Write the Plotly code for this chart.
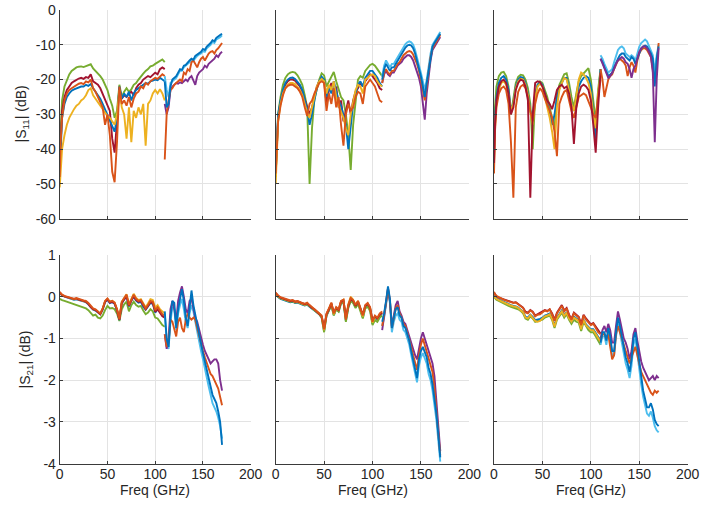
import plotly.graph_objects as go

# ---------------- frequency grids (GHz) ----------------
F_LO = [0, 1, 2.5, 5, 7.5, 10, 12.5, 15, 17.5, 20,
        22.5, 25, 27.5, 30, 32.5, 35, 37.5, 40, 42.5, 45,
        47.5, 50, 52.5, 55, 57.5, 60, 62.5, 65, 67.5, 70,
        72.5, 75, 77.5, 80, 82.5, 85, 87.5, 90, 92.5, 95,
        97.5, 100, 102.5, 105, 107.5, 110]
F_HI = [110, 112, 114, 116, 118, 120, 122, 124, 126, 128,
        130, 132, 134, 136, 138, 140, 142, 144, 146, 148,
        150, 152, 154, 156, 158, 160, 162, 164, 166, 168,
        170]

# ---------------- |S11| column 1 ----------------
A1_GRN = [-40, -32, -26, -22, -20, -18.5, -17.5, -17, -16.5, -16.3,
          -16.2, -16.4, -16.2, -16, -15.6, -16.8, -17.5, -18, -19, -20,
          -21.5, -23, -25.5, -27.5, -31, -29, -21.5, -25, -23.5, -22.5,
          -23.5, -22.8, -21.5, -21, -20, -19, -18.3, -17.5, -17, -16.2,
          -16, -15.5, -15, -14.5, -14.2, -15]
A1_RED = [-45, -36, -29, -25, -23, -22, -21, -20.5, -20, -19.7,
          -19.5, -19.8, -19.3, -19.5, -18.5, -20.5, -21, -21.5, -22.5, -24,
          -26, -27, -29, -37, -41, -32, -22.5, -25.5, -24.5, -25,
          -24, -23.5, -24.5, -22.5, -21.5, -21, -20, -19.5, -19, -19.3,
          -18.5, -18, -18.5, -17, -16.5, -17]
A1_ORG = [-48, -38, -31, -26, -24, -23, -22.5, -22, -21.5, -21.2,
          -21, -21.3, -20.5, -20.8, -20, -22.5, -23.5, -25, -26.5, -28,
          -33, -30, -36, -46.5, -49.5, -38, -22, -27, -26, -27.5,
          -25, -28, -25.5, -24, -23.5, -22, -22.5, -21, -21.5, -20.5,
          -20, -19.5, -19.8, -19, -18.5, -19]
A1_BLU = [-47, -38, -31, -27, -25, -24, -23.2, -22.8, -22.5, -22.2,
          -22, -22, -21.5, -21.8, -21.3, -22.5, -23.5, -24.5, -25.5, -27,
          -28.5, -30, -32, -33.5, -35, -31, -22, -25.5, -24, -25,
          -23.5, -26, -24, -23, -22.5, -22, -21.5, -21, -21.2, -20.5,
          -20.3, -20, -20.2, -19.5, -20, -20.5]
A1_YEL = [-51, -45, -40, -36, -33, -31, -29.5, -28.5, -27.5, -27,
          -26, -25.5, -24.5, -23, -22.5, -24.5, -25.5, -26.5, -27.5, -28.5,
          -29.5, -30.5, -31, -32, -33, -30, -23, -28, -30, -37,
          -28, -38, -29, -31, -28, -30, -27, -39, -27, -26,
          -24, -23, -24, -22.8, -24, -26]
A1_BLU_HI = [-20.5, -28, -27, -22, -20, -19.5, -19, -18, -17, -17.2,
             -16, -15.8, -15, -14.5, -14, -14.3, -13.2, -12.8, -12.3, -12,
             -11.2, -11.5, -10.5, -10, -9.5, -8.7, -9, -8, -7.7, -7.2,
             -6.8]
A1_LBL_HI = [-19, -23, -25, -21, -20.5, -20, -19.5, -18.5, -17.5, -17.5,
             -16.5, -16, -15.5, -15, -14.5, -14.5, -13.8, -13.2, -12.8, -12.5,
             -11.8, -12, -11, -10.5, -10, -9.2, -9.5, -8.5, -8.2, -7.8,
             -7.3]
A1_ORG_HI = [-43, -30, -26, -23, -22.5, -21.5, -21, -20.5, -20, -20.5,
             -18, -18.5, -17, -17.5, -15, -14.5, -15.5, -16.5, -15, -14,
             -13.5, -14.5, -13.5, -12.5, -12, -11.8, -12.5, -11.5, -11, -10.2,
             -9.5]
A1_PUR_HI = [-27, -30, -28, -23, -22, -21.5, -21, -21.2, -20.8, -21,
             -20.5, -20, -20.5, -19.5, -19, -20.5, -21.5, -19, -18, -17.5,
             -17, -16, -16.5, -15.5, -15, -14.5, -14, -13, -13.5, -12.5,
             -12]

# ---------------- |S11| column 2 ----------------
B1_GRN = [-48, -38, -30, -25, -21.5, -19.5, -18.5, -18, -17.8, -18,
          -18.8, -20, -21.5, -24.5, -28, -50, -34, -25.5, -22.5, -20,
          -18.2, -18.8, -22, -20.5, -19.5, -17.8, -20.5, -23, -25, -26,
          -30, -36, -46, -33, -26, -20, -19, -19.5, -17.5, -16.5,
          -15.8, -15.5, -16, -17, -18, -19]
B1_BLU = [-46, -37, -30, -26, -23, -21, -20, -19.5, -19.4, -19.8,
          -20.5, -21.5, -23, -25.5, -28.5, -33, -30, -26, -22.5, -20.5,
          -19.2, -20, -25, -22, -24, -20.5, -23, -26, -27.5, -30,
          -33, -40, -33, -27, -24, -21.5, -20.5, -22, -19.5, -18.5,
          -17.5, -17.5, -18.5, -19.5, -21, -22]
B1_RED = [-47, -38, -31, -26.5, -23.5, -21.5, -20.5, -20, -20, -20.3,
          -21, -22, -23.5, -25.5, -28, -30, -28, -25, -22, -20.5,
          -19.8, -20.5, -27, -23, -21, -24, -22, -28, -26, -32,
          -29, -26, -30, -26, -23.5, -22.5, -21, -22, -20.5, -19.5,
          -18.5, -19, -20, -21, -22.5, -23]
B1_ORG = [-47, -39, -32, -27.5, -24.5, -22.5, -21.8, -21.5, -21.5, -22,
          -22.5, -23.5, -25, -28, -30.5, -27, -26, -24, -22.5, -21,
          -20.5, -21, -29, -24, -27, -22.5, -28, -25, -33, -39,
          -30, -27, -29, -28, -25, -23.5, -24, -27, -22, -21,
          -20, -21, -22, -24, -26, -26.5]
B1_YEL = [-50, -40, -32, -27, -24, -22.5, -21.5, -21, -21, -21.3,
          -22, -23, -24.5, -27, -29.5, -31, -28, -25, -22, -20.5,
          -19.8, -20.5, -24, -21.5, -23, -20.5, -25, -27.5, -29, -31,
          -34, -36, -30, -26, -23, -21.5, -22, -24, -20, -19.5,
          -18.8, -18.5, -19, -20.5, -21.5, -22]
B1_BLU_HI = [-20, -17, -15.5, -16.5, -17.5, -16.5, -16.5, -15.5, -14.5, -13.5,
             -12.5, -11.5, -10.8, -10.2, -10, -10.2, -11, -12.5, -14.5, -16.5,
             -19, -22, -25, -21, -17, -13, -10.5, -9.5, -8.5, -7.5,
             -6.8]
B1_LBL_HI = [-19, -16, -14.5, -15.5, -16.5, -15.5, -15.5, -14.5, -13.5, -12.5,
             -11.5, -10.5, -9.8, -9.3, -9, -9.3, -10, -11.5, -13.5, -15.5,
             -18, -20.5, -23, -20, -16, -12.5, -10, -9, -8, -7,
             -6.3]
B1_ORG_HI = [-21, -18, -17, -18, -18.5, -17.5, -17.5, -16.5, -15.5, -15,
             -14, -13, -12.5, -12, -11.8, -12, -12.8, -14, -15.5, -17.5,
             -20, -23, -26, -21.5, -17.5, -13.5, -11, -10, -9, -8,
             -7.2]
B1_PUR_HI = [-21, -18.5, -17.5, -18.5, -19, -18, -18, -17, -16, -15.5,
             -15, -14, -13.5, -13, -13, -13.5, -14.5, -16, -17.5, -19.5,
             -22, -27, -31.5, -24, -19, -14.5, -11.5, -10.5, -9.5, -8.5,
             -7.8]

# ---------------- |S11| column 3 ----------------
C1_GRN = [-38, -28, -22, -19, -18, -17.8, -19, -22, -30, -26,
          -21, -19.2, -18.6, -18.8, -20, -22.5, -27, -40, -25, -21.5,
          -20.5, -21, -23, -25, -28, -31, -34, -24.5, -21.5, -20,
          -18.5, -18.2, -21, -25, -28, -24, -20.5, -19, -18.2, -17.2,
          -16.7, -20, -27, -32, -23, -17]
C1_ORG = [-47, -35, -28, -24, -22.5, -22, -23, -27, -38, -54,
          -28, -23.5, -22, -21.5, -22.5, -25, -29, -32, -27, -24,
          -22.5, -23.5, -25.5, -27, -29, -31, -35, -42, -27, -25,
          -23.5, -23, -26, -29, -31, -28, -25, -24.5, -24, -24.5,
          -26, -28, -30, -31, -25, -20]
C1_RED = [-44, -33, -26, -22, -20.5, -20, -21, -24, -30, -28,
          -23, -21, -20, -20.3, -22, -26, -54, -30, -21, -20.5,
          -20.7, -22, -24, -26, -27, -28.5, -26, -23, -22, -21.5,
          -22.5, -22, -24, -28, -38.5, -28, -24, -22, -21.5, -22,
          -23, -26, -33, -41, -28, -18]
C1_BLU = [-42, -31, -25, -21, -19.5, -19, -20, -23, -29, -27,
          -22, -20, -19.3, -19.5, -21, -24, -29, -31, -24, -21.5,
          -20.8, -21.5, -24, -27, -29, -33, -30, -25, -22.5, -21,
          -19.5, -19.5, -22.5, -27, -29, -26, -22, -20.5, -19.5, -19,
          -19.5, -22, -30, -37, -25, -17]
C1_YEL = [-45, -34, -27, -23, -21, -20.5, -21.5, -24.5, -29, -27,
          -22.5, -20.5, -19.8, -20, -21.5, -24.5, -29.5, -33, -25, -22,
          -21.2, -22, -25, -28, -31, -35, -40, -28, -23, -21,
          -19.5, -20, -23, -27, -29, -25, -20, -18, -18.5, -19.5,
          -21, -24, -30, -34, -24, -18]
C1_BLU_HI = [-14, -15, -16.5, -18, -19, -18.5, -18, -16.5, -15, -14,
             -13, -12.5, -12.5, -13.5, -14, -14.5, -13.5, -14, -15.5, -14,
             -12, -11, -10.5, -10.2, -10.5, -11.5, -12.5, -14, -22, -14,
             -10.5]
C1_LBL_HI = [-13, -14, -15.5, -17, -18, -17.5, -17, -15, -13, -11.5,
             -10.8, -10.5, -11, -12.5, -13, -13.5, -13, -13.5, -14.5, -12.5,
             -10.5, -9.5, -9, -8.5, -9, -10.5, -11.5, -13, -18, -13,
             -10]
C1_ORG_HI = [-17, -20, -25, -22, -20, -19, -18.5, -17, -15.5, -14.5,
             -14, -14.5, -15, -16, -19, -16.5, -15, -16, -18, -14.5,
             -12.5, -11.5, -11, -11, -11.5, -12.5, -13.5, -17, -21, -16,
             -9.5]
C1_PUR_HI = [-14, -15.5, -17, -18.5, -19.5, -19, -18, -17, -15.5, -14.5,
             -14, -13.5, -14, -15, -15.5, -17, -19.5, -17, -16, -14,
             -12, -11, -10.5, -10.5, -11, -12, -13.5, -18, -38, -20,
             -11]

# ---------------- |S21| column 1 ----------------
D_ORG = [0.12, 0.08, 0.05, 0.02, 0.0, -0.02, -0.03, -0.05, -0.03, -0.06,
         -0.07, -0.09, -0.1, -0.15, -0.22, -0.28, -0.3, -0.36, -0.4, -0.28,
         -0.1, -0.04, -0.12, -0.1, -0.14, -0.3, -0.54, -0.12, -0.02, 0.05,
         -0.2, -0.05, 0.05, -0.05, -0.1, -0.08, -0.2, -0.28, -0.2, -0.1,
         -0.12, -0.32, -0.25, -0.35, -0.42, -0.45]
D_RED = [0.1, 0.07, 0.04, 0.01, -0.01, -0.03, -0.04, -0.05, -0.04, -0.07,
         -0.08, -0.1, -0.12, -0.17, -0.25, -0.3, -0.32, -0.38, -0.42, -0.3,
         -0.12, -0.06, -0.14, -0.12, -0.16, -0.32, -0.55, -0.15, -0.05, 0.02,
         -0.22, -0.08, 0.02, -0.08, -0.12, -0.1, -0.22, -0.3, -0.22, -0.13,
         -0.15, -0.36, -0.3, -0.4, -0.47, -0.5]
D_BLU = [0.08, 0.05, 0.03, 0.0, -0.02, -0.04, -0.05, -0.07, -0.06, -0.08,
         -0.09, -0.11, -0.13, -0.18, -0.26, -0.31, -0.33, -0.38, -0.42, -0.31,
         -0.13, -0.07, -0.15, -0.13, -0.17, -0.33, -0.56, -0.16, -0.06, 0.0,
         -0.23, -0.09, 0.0, -0.09, -0.14, -0.12, -0.24, -0.31, -0.24, -0.15,
         -0.17, -0.38, -0.3, -0.38, -0.44, -0.48]
D_YEL = [0.09, 0.06, 0.04, 0.01, -0.01, -0.03, -0.04, -0.06, -0.05, -0.07,
         -0.08, -0.1, -0.12, -0.16, -0.24, -0.3, -0.31, -0.37, -0.41, -0.29,
         -0.11, -0.05, -0.12, -0.1, -0.14, -0.3, -0.52, -0.12, -0.02, 0.06,
         -0.18, -0.04, 0.07, -0.03, -0.08, -0.06, -0.17, -0.25, -0.16, -0.06,
         -0.08, -0.26, -0.2, -0.3, -0.35, -0.4]
D_GRN = [-0.05, -0.07, -0.08, -0.1, -0.12, -0.14, -0.16, -0.18, -0.2, -0.22,
         -0.23, -0.26, -0.28, -0.32, -0.4, -0.45, -0.43, -0.5, -0.52, -0.45,
         -0.32, -0.22, -0.28, -0.27, -0.3, -0.4, -0.58, -0.3, -0.18, -0.12,
         -0.35, -0.2, -0.12, -0.2, -0.24, -0.22, -0.33, -0.42, -0.38, -0.3,
         -0.35, -0.5, -0.52, -0.6, -0.68, -0.72]
D_BLU_HI = [-0.35, -1.0, -1.2, -0.5, -0.1, -0.15, -0.75, -0.3, -0.05, 0.18,
            -0.1, -0.5, -0.7, -0.2, 0.15, -0.2, -0.45, -0.7, -0.95, -1.15,
            -1.35, -1.55, -1.75, -1.9, -2.1, -2.35, -2.45, -2.55, -2.75, -3.0,
            -3.55]
D_LBL_HI = [-0.4, -1.05, -1.25, -0.6, -0.25, -0.3, -0.8, -0.4, -0.2, -0.05,
            -0.3, -0.6, -0.75, -0.4, -0.2, -0.35, -0.6, -0.85, -1.1, -1.3,
            -1.5, -1.75, -1.95, -2.15, -2.35, -2.55, -2.65, -2.75, -2.9, -3.1,
            -3.4]
D_PUR_HI = [-0.9, -1.25, -1.0, -0.3, -0.1, -0.3, -0.6, -0.1, 0.1, 0.25,
            0.0, -0.3, -0.4, -0.1, -0.05, -0.3, -0.5, -0.6, -0.8, -1.0,
            -1.15, -1.3, -1.4, -1.5, -1.6, -1.55, -1.5, -1.5, -1.6, -2.0,
            -2.25]
D_ORG_HI = [-0.9, -1.2, -1.1, -0.55, -0.6, -0.75, -0.95, -0.6, -0.5, -0.75,
            -0.85, -0.55, -0.4, -0.5, -0.55, -0.5, -0.55, -0.75, -0.95, -1.15,
            -1.3, -1.45, -1.6, -1.75, -1.85, -1.9, -2.0, -2.1, -2.2, -2.4,
            -2.6]

# ---------------- |S21| column 2 ----------------
E_ORG = [0.1, 0.06, 0.03, -0.01, -0.03, -0.05, -0.08, -0.09, -0.08, -0.11,
         -0.1, -0.13, -0.15, -0.17, -0.14, -0.2, -0.25, -0.28, -0.33, -0.38,
         -0.45, -0.78, -0.4, -0.28, -0.14, -0.4, -0.25, -0.3, -0.1, -0.07,
         -0.55, -0.2, -0.03, -0.08, -0.2, -0.1, -0.25, -0.45, -0.2, -0.15,
         -0.25, -0.6, -0.45, -0.5, -0.4, -0.35]
E_RED = [0.09, 0.05, 0.02, -0.02, -0.04, -0.06, -0.09, -0.1, -0.09, -0.12,
         -0.11, -0.14, -0.16, -0.18, -0.16, -0.22, -0.27, -0.3, -0.35, -0.4,
         -0.47, -0.75, -0.42, -0.3, -0.16, -0.38, -0.27, -0.32, -0.12, -0.09,
         -0.5, -0.22, -0.05, -0.1, -0.22, -0.12, -0.27, -0.43, -0.22, -0.17,
         -0.27, -0.55, -0.47, -0.52, -0.43, -0.38]
E_BLU = [0.06, 0.02, -0.01, -0.05, -0.07, -0.09, -0.12, -0.13, -0.12, -0.15,
         -0.14, -0.17, -0.19, -0.21, -0.19, -0.24, -0.29, -0.32, -0.37, -0.42,
         -0.5, -0.82, -0.45, -0.33, -0.2, -0.44, -0.3, -0.35, -0.15, -0.12,
         -0.58, -0.25, -0.08, -0.13, -0.25, -0.15, -0.3, -0.5, -0.25, -0.2,
         -0.3, -0.65, -0.5, -0.55, -0.45, -0.4]
E_YEL = [0.08, 0.04, 0.01, -0.03, -0.05, -0.07, -0.1, -0.11, -0.1, -0.13,
         -0.12, -0.15, -0.17, -0.19, -0.17, -0.22, -0.27, -0.3, -0.35, -0.4,
         -0.48, -0.8, -0.42, -0.3, -0.16, -0.42, -0.27, -0.32, -0.11, -0.07,
         -0.53, -0.18, 0.0, -0.07, -0.2, -0.1, -0.26, -0.47, -0.22, -0.17,
         -0.27, -0.62, -0.48, -0.53, -0.43, -0.38]
E_GRN = [0.07, 0.03, 0.0, -0.04, -0.06, -0.08, -0.11, -0.12, -0.11, -0.14,
         -0.13, -0.16, -0.18, -0.2, -0.18, -0.23, -0.28, -0.31, -0.36, -0.42,
         -0.5, -0.85, -0.45, -0.33, -0.2, -0.45, -0.3, -0.36, -0.16, -0.13,
         -0.6, -0.27, -0.1, -0.15, -0.27, -0.17, -0.32, -0.52, -0.28, -0.24,
         -0.34, -0.68, -0.56, -0.6, -0.5, -0.45]
E_BLU_HI = [-0.6, -0.4, -0.1, 0.25, -0.05, -0.75, -0.5, -0.3, -0.25, -0.45,
            -0.5, -0.7, -0.75, -0.9, -1.05, -1.3, -1.5, -1.7, -1.95, -1.5,
            -1.3, -1.2, -1.35, -1.45, -1.7, -1.85, -2.1, -2.4, -2.8, -3.3,
            -3.85]
E_LBL_HI = [-0.7, -0.5, -0.2, 0.15, -0.15, -0.85, -0.6, -0.45, -0.4, -0.55,
            -0.6, -0.8, -0.85, -1.0, -1.15, -1.4, -1.6, -1.8, -2.05, -1.65,
            -1.45, -1.35, -1.5, -1.6, -1.85, -2.0, -2.25, -2.55, -2.95, -3.45,
            -3.95]
E_PUR_HI = [-0.8, -0.5, -0.15, 0.2, -0.1, -0.7, -0.45, -0.2, -0.1, -0.35,
            -0.45, -0.6, -0.65, -0.8, -0.95, -1.15, -1.3, -1.4, -1.5, -1.2,
            -1.0, -0.85, -1.0, -1.15, -1.3, -1.45, -1.6, -1.9, -2.5, -3.1,
            -3.7]
E_ORG_HI = [-0.7, -0.45, -0.15, 0.2, -0.1, -0.75, -0.5, -0.28, -0.2, -0.4,
            -0.5, -0.65, -0.7, -0.85, -1.0, -1.2, -1.4, -1.55, -1.75, -1.4,
            -1.15, -1.0, -1.15, -1.3, -1.5, -1.6, -1.8, -2.2, -2.7, -3.3,
            -3.8]

# ---------------- |S21| column 3 ----------------
G_ORG = [0.12, 0.06, 0.02, -0.02, -0.04, -0.07, -0.1, -0.11, -0.13, -0.15,
         -0.14, -0.18, -0.22, -0.27, -0.38, -0.4, -0.33, -0.37, -0.47, -0.43,
         -0.42, -0.38, -0.33, -0.35, -0.3, -0.42, -0.58, -0.4, -0.3, -0.22,
         -0.35, -0.28, -0.45, -0.55, -0.4, -0.45, -0.5, -0.68, -0.45, -0.55,
         -0.62, -0.68, -0.65, -0.75, -0.85, -0.9]
G_RED = [0.1, 0.05, 0.01, -0.02, -0.04, -0.07, -0.09, -0.1, -0.12, -0.14,
         -0.13, -0.17, -0.21, -0.26, -0.36, -0.38, -0.32, -0.36, -0.45, -0.42,
         -0.4, -0.37, -0.32, -0.34, -0.3, -0.4, -0.55, -0.38, -0.28, -0.2,
         -0.33, -0.27, -0.43, -0.53, -0.38, -0.43, -0.48, -0.65, -0.43, -0.52,
         -0.6, -0.66, -0.63, -0.72, -0.82, -0.88]
G_GRN = [0.0, -0.04, -0.07, -0.1, -0.13, -0.16, -0.2, -0.22, -0.24, -0.26,
         -0.27, -0.3, -0.34, -0.4, -0.52, -0.55, -0.47, -0.52, -0.6, -0.58,
         -0.56, -0.55, -0.5, -0.48, -0.45, -0.55, -0.75, -0.55, -0.45, -0.38,
         -0.5, -0.42, -0.55, -0.65, -0.55, -0.6, -0.62, -0.82, -0.6, -0.72,
         -0.8, -0.85, -0.85, -0.95, -1.05, -1.15]
G_YEL = [0.02, -0.02, -0.05, -0.08, -0.11, -0.14, -0.17, -0.19, -0.21, -0.23,
         -0.24, -0.27, -0.31, -0.37, -0.5, -0.52, -0.44, -0.5, -0.58, -0.6,
         -0.58, -0.52, -0.47, -0.45, -0.42, -0.53, -0.72, -0.52, -0.42, -0.35,
         -0.46, -0.38, -0.52, -0.6, -0.5, -0.55, -0.58, -0.78, -0.56, -0.68,
         -0.75, -0.8, -0.8, -0.9, -1.0, -1.08]
G_BLU = [0.03, -0.01, -0.04, -0.07, -0.1, -0.13, -0.16, -0.18, -0.2, -0.22,
         -0.23, -0.26, -0.3, -0.36, -0.48, -0.5, -0.43, -0.48, -0.56, -0.55,
         -0.53, -0.5, -0.45, -0.43, -0.4, -0.5, -0.7, -0.5, -0.4, -0.33,
         -0.45, -0.37, -0.5, -0.6, -0.48, -0.53, -0.56, -0.76, -0.55, -0.66,
         -0.72, -0.78, -0.78, -0.88, -0.98, -1.05]
G_BLU_HI = [-1.1, -0.85, -0.85, -1.05, -0.75, -0.95, -1.3, -1.3, -0.85, -0.5,
            -0.7, -0.95, -1.2, -1.45, -1.6, -1.8, -1.5, -1.0, -0.85, -1.2,
            -1.55, -1.95, -2.25, -2.45, -2.65, -2.65, -2.55, -2.7, -2.95, -3.05,
            -3.1]
G_LBL_HI = [-1.15, -0.95, -0.95, -1.15, -0.85, -1.05, -1.4, -1.4, -0.95, -0.65,
            -0.85, -1.1, -1.35, -1.6, -1.75, -1.95, -1.65, -1.15, -1.0, -1.4,
            -1.75, -2.1, -2.4, -2.6, -2.8, -2.85, -2.75, -2.9, -3.1, -3.2,
            -3.25]
G_PUR_HI = [-1.0, -0.8, -0.7, -0.85, -0.65, -0.8, -1.1, -1.1, -0.7, -0.35,
            -0.55, -0.8, -1.0, -1.1, -1.25, -1.5, -1.3, -0.9, -0.75, -1.05,
            -1.35, -1.55, -1.7, -1.8, -1.9, -2.0, -1.95, -1.9, -2.0, -1.9,
            -1.95]
G_ORG_HI = [-1.05, -0.9, -0.9, -1.0, -0.9, -1.2, -1.5, -1.4, -0.9, -0.7,
            -0.85, -1.0, -1.15, -1.3, -1.45, -1.6, -1.45, -1.3, -1.2, -1.4,
            -1.6, -1.8, -1.9, -2.0, -2.1, -2.2, -2.3, -2.35, -2.25, -2.3,
            -2.25]

# ---------------- tick labels ----------------
X_TICKS = [0, 50, 100, 150, 200]
X_TICKTEXT = ["0", "50", "100", "150", "200"]
S11_TICKS = [0, -10, -20, -30, -40, -50, -60]
S11_TICKTEXT = ["0", "-10", "-20", "-30", "-40", "-50", "-60"]
S21_TICKS = [1, 0, -1, -2, -3, -4]
S21_TICKTEXT = ["1", "0", "-1", "-2", "-3", "-4"]

# MATLAB default colour order
BLUE, ORANGE, YELLOW = "#0072BD", "#D95319", "#EDB120"
PURPLE, GREEN, LBLUE, DRED = "#7E2F8E", "#77AC30", "#4DBEEE", "#A2142F"

W, H = 701, 508
XDOM = [(59.7, 250.7), (275.7, 469.3), (494.0, 687.7)]   # px
YDOM = [(10.0, 218.7), (255.0, 463.7)]                   # px (top, bottom)

panels = [
    (0, 0, [(A1_GRN, GREEN), (A1_RED, DRED), (A1_BLU, BLUE), (A1_YEL, YELLOW), (A1_ORG, ORANGE)],
           [(A1_LBL_HI, LBLUE), (A1_PUR_HI, PURPLE), (A1_ORG_HI, ORANGE), (A1_BLU_HI, BLUE)]),
    (0, 1, [(B1_GRN, GREEN), (B1_RED, DRED), (B1_BLU, BLUE), (B1_YEL, YELLOW), (B1_ORG, ORANGE)],
           [(B1_LBL_HI, LBLUE), (B1_PUR_HI, PURPLE), (B1_ORG_HI, ORANGE), (B1_BLU_HI, BLUE)]),
    (0, 2, [(C1_GRN, GREEN), (C1_BLU, BLUE), (C1_YEL, YELLOW), (C1_ORG, ORANGE), (C1_RED, DRED)],
           [(C1_LBL_HI, LBLUE), (C1_ORG_HI, ORANGE), (C1_BLU_HI, BLUE), (C1_PUR_HI, PURPLE)]),
    (1, 0, [(D_GRN, GREEN), (D_BLU, BLUE), (D_YEL, YELLOW), (D_RED, DRED), (D_ORG, ORANGE)],
           [(D_LBL_HI, LBLUE), (D_PUR_HI, PURPLE), (D_ORG_HI, ORANGE), (D_BLU_HI, BLUE)]),
    (1, 1, [(E_BLU, BLUE), (E_GRN, GREEN), (E_YEL, YELLOW), (E_RED, DRED), (E_ORG, ORANGE)],
           [(E_LBL_HI, LBLUE), (E_PUR_HI, PURPLE), (E_ORG_HI, ORANGE), (E_BLU_HI, BLUE)]),
    (1, 2, [(G_GRN, GREEN), (G_BLU, BLUE), (G_YEL, YELLOW), (G_RED, DRED), (G_ORG, ORANGE)],
           [(G_LBL_HI, LBLUE), (G_PUR_HI, PURPLE), (G_ORG_HI, ORANGE), (G_BLU_HI, BLUE)]),
]

fig = go.Figure()
FONT = "Liberation Sans, Arial, Helvetica, sans-serif"
TXT = "#262626"
FS = 14

for row, col, lo, hi in panels:
    n = row * 3 + col + 1
    sfx = "" if n == 1 else str(n)
    for vals, c in lo:
        fig.add_trace(go.Scatter(x=F_LO, y=vals, mode="lines", xaxis="x" + sfx, yaxis="y" + sfx,
                                 line=dict(color=c, width=1.9), showlegend=False, hoverinfo="skip"))
    for vals, c in hi:
        fig.add_trace(go.Scatter(x=F_HI, y=vals, mode="lines", xaxis="x" + sfx, yaxis="y" + sfx,
                                 line=dict(color=c, width=1.9), showlegend=False, hoverinfo="skip"))

    x0, x1 = XDOM[col]
    y0, y1 = YDOM[row]
    common = dict(showgrid=True, gridcolor="#e3e3e3", gridwidth=1, zeroline=False,
                  showline=True, linecolor="#3a3a3a", linewidth=1, ticks="inside",
                  ticklen=3, tickwidth=1, tickcolor="#3a3a3a", mirror=False,
                  automargin=False,
                  tickfont=dict(family=FONT, size=FS, color=TXT))
    fig.layout["xaxis" + sfx] = dict(
        common, domain=[x0 / W, x1 / W], anchor="y" + sfx, range=[0, 200],
        tickvals=X_TICKS, ticktext=X_TICKTEXT, showticklabels=(row == 1),
        ticklabelstandoff=-3)
    if row == 0:
        yt, ytt, yr = S11_TICKS, S11_TICKTEXT, [-60, 0]
    else:
        yt, ytt, yr = S21_TICKS, S21_TICKTEXT, [-4, 1]
    fig.layout["yaxis" + sfx] = dict(
        common, domain=[1 - y1 / H, 1 - y0 / H], anchor="x" + sfx, range=yr,
        tickvals=yt, ticktext=ytt, showticklabels=(col == 0))

annotations = []
for col in range(3):
    x0, x1 = XDOM[col]
    annotations.append(dict(text="Freq (GHz)", x=(x0 + x1) / 2 / W, y=1 - 490 / H,
                            xref="paper", yref="paper", showarrow=False,
                            xanchor="center", yanchor="middle",
                            font=dict(family=FONT, size=FS, color=TXT)))
annotations.append(dict(text="|S<sub>11</sub>| (dB)", x=22 / W, y=1 - 114.4 / H,
                        xref="paper", yref="paper", showarrow=False, textangle=-90,
                        xanchor="center", yanchor="middle",
                        font=dict(family=FONT, size=FS, color=TXT)))
annotations.append(dict(text="|S<sub>21</sub>| (dB)", x=26 / W, y=1 - 359.4 / H,
                        xref="paper", yref="paper", showarrow=False, textangle=-90,
                        xanchor="center", yanchor="middle",
                        font=dict(family=FONT, size=FS, color=TXT)))

fig.update_layout(width=W, height=H, margin=dict(l=0, r=0, t=0, b=0),
                  autosize=False, paper_bgcolor="white", plot_bgcolor="white",
                  annotations=annotations, showlegend=False)

fig.write_html("out.html", config={"responsive": False},
               post_script="document.body.style.margin='0';document.body.style.padding='0';"
                           "document.body.style.overflow='hidden';")
